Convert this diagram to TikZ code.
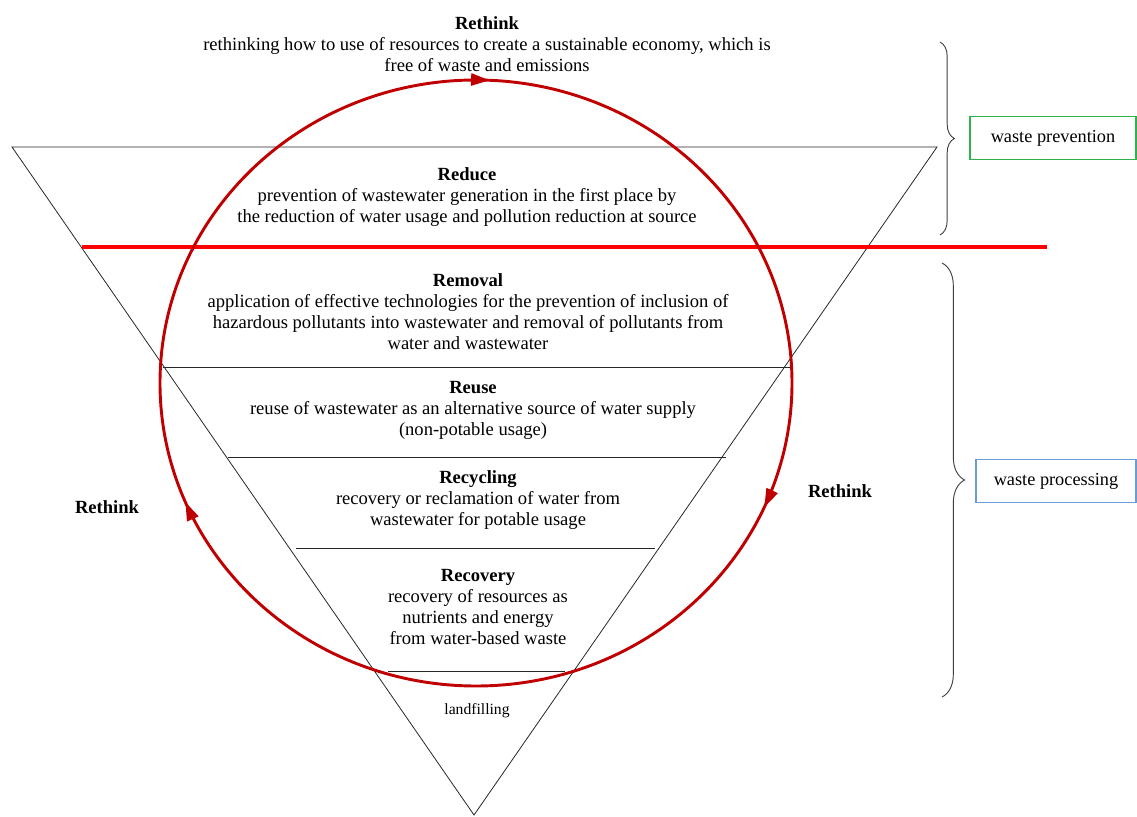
\documentclass[tikz,border=0pt]{standalone}
\usepackage{fontspec}
\setmainfont{Liberation Serif}
\usetikzlibrary{arrows.meta}
\usetikzlibrary{decorations.markings}
\usetikzlibrary{decorations.pathreplacing}

\definecolor{cyclered}{HTML}{C00000}
\definecolor{prevgreen}{HTML}{2DB34A}
\definecolor{procblue}{HTML}{6A9BD8}

\begin{document}
\begin{tikzpicture}[x=0.0265cm, y=-0.0265cm,
	level/.style={align=center, inner sep=0pt, font=\fontsize{14}{15.8}\selectfont},
	divider/.style={black!85, line width=0.6pt},
	sidelabel/.style={inner sep=0pt, font=\fontsize{14}{15}\selectfont\bfseries},
	phase/.style={draw, line width=0.8pt, minimum height=1.13cm, font=\fontsize{13.8}{15}\selectfont},
	curly/.style={black!75, line width=0.7pt, decorate, decoration={brace, amplitude=#1}}
	]

	\useasboundingbox (0,0) rectangle (1137,817);

	%Drawing the inverted triangle and its layers
	\coordinate (tl) at (12,147);
	\coordinate (tr) at (937,147);
	\coordinate (apex) at (474,815);
	\draw[divider] (tl) -- (tr) -- (apex) -- cycle;
	\draw[divider] (163,367) -- (790,367);
	\draw[divider] (228,457) -- (726,457);
	\draw[divider] (296,548) -- (655,548);
	\draw[divider] (388,671) -- (565,671);

	%Red line between prevention and processing
	\draw[red, line width=3pt] (82,247) -- (1047,247);

	%The rethink cycle
	\draw[cyclered, line width=2.2pt, postaction={decorate},
		decoration={markings,
			mark=at position 0.066 with {\arrow{Triangle[length=14pt,width=9pt]}},
			mark=at position 0.437 with {\arrow{Triangle[length=14pt,width=9pt]}},
			mark=at position 0.757 with {\arrow{Triangle[length=14pt,width=9pt]}}}]
		(476,383) ellipse [x radius=316, y radius=303];

	%Labelling the layers
	\node[level] (rethink) at (487,44) {\textbf{Rethink}\\rethinking how to use of resources to create a sustainable economy, which is\\free of waste and emissions};
	\node[level] (reduce) at (467,197) {\textbf{Reduce}\\prevention of wastewater generation in the first place by\\the reduction of water usage and pollution reduction at source};
	\node[level] (removal) at (468,312) {\textbf{Removal}\\application of effective technologies for the prevention of inclusion of\\hazardous pollutants into wastewater and removal of pollutants from\\water and wastewater};
	\node[level] (reuse) at (473,410) {\textbf{Reuse}\\reuse of wastewater as an alternative source of water supply\\(non-potable usage)};
	\node[level] (recycling) at (478,500) {\textbf{Recycling}\\recovery or reclamation of water from\\wastewater for potable usage};
	\node[level] (recovery) at (478,607) {\textbf{Recovery}\\recovery of resources as\\nutrients and energy\\from water-based waste};
	\node[level, font=\fontsize{11.8}{13}\selectfont] (landfill) at (477,711) {landfilling};

	\node[sidelabel] (rleft) at (107,507) {Rethink};
	\node[sidelabel] (rright) at (840,491) {Rethink};

	%Braces and phases
	\draw[curly=0.38cm] (940,42) -- (940,235);
	\draw[curly=0.6cm] (942,263) -- (942,697);
	\node[phase, draw=prevgreen, minimum width=4.4cm] (prev) at (1053,138) {waste prevention};
	\node[phase, draw=procblue, minimum width=4.24cm] (proc) at (1056,481) {waste processing};

\end{tikzpicture}
\end{document}
